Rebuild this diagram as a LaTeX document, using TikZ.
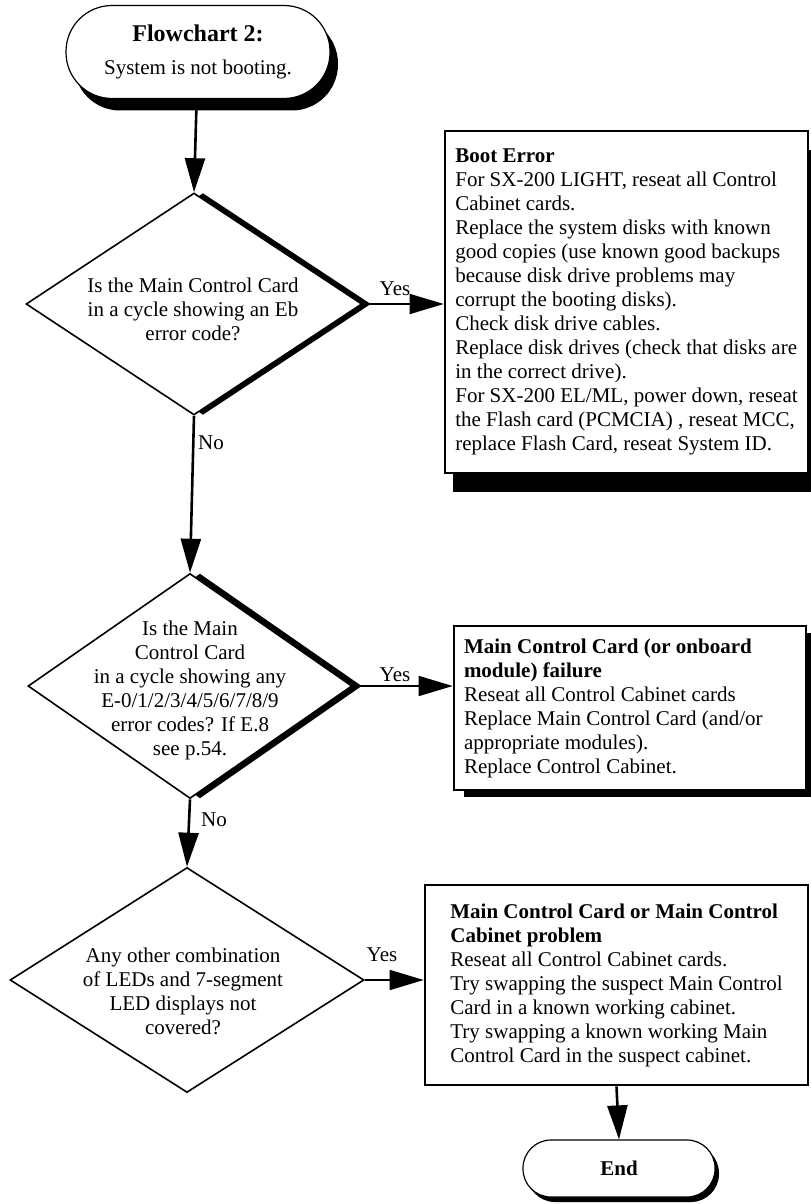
\documentclass[tikz,border=0pt]{standalone}
\usepackage{fontspec}
\setmainfont{Liberation Serif}
\usetikzlibrary{arrows.meta,shapes.geometric,shadows}

\begin{document}
\begin{tikzpicture}[x=0.5pt, y=-0.5pt, >={Triangle[length=17pt,width=10pt]},
    every node/.style={font=\fontsize{10.5}{12}\selectfont},
    term/.style={draw, line width=0.6pt, fill=white, rectangle, align=center},
    decision/.style={draw, line width=0.8pt, fill=white, diamond, inner sep=0pt},
    actbox/.style={draw, line width=1.3pt, fill=white, rectangle, align=flush left},
    flow/.style={->, line width=1.3pt},
    flowh/.style={->, line width=0.8pt}]
    \useasboundingbox (0,0) rectangle (810,1204);

    % terminals
    \node[term, rounded corners=23pt, minimum width=132pt, minimum height=46.5pt,
        drop shadow={shadow xshift=4pt, shadow yshift=-6pt, opacity=1, fill=black}]
        (start) at (198,52) {{\fontsize{12}{14}\selectfont\textbf{Flowchart 2:}}\\[4.5pt]System is not booting.};
    \node[term, rounded corners=14pt, minimum width=96pt, minimum height=28.5pt,
        drop shadow={shadow xshift=2pt, shadow yshift=-2.5pt, opacity=1, fill=black}]
        (end) at (619,1168.5) {\textbf{End}};

    % decisions
    \node[decision, minimum width=168pt, minimum height=111pt,
        drop shadow={shadow xshift=4.5pt, shadow yshift=0pt, opacity=1, fill=black}] (d1) at (194,304) {};
    \node[align=center] (d1text) at (193,309) {Is the Main Control Card\\in a cycle showing an Eb\\error code?};
    \node[decision, minimum width=162pt, minimum height=112.5pt,
        drop shadow={shadow xshift=5pt, shadow yshift=0pt, opacity=1, fill=black}] (d2) at (190,686) {};
    \node[align=center] (d2text) at (190,690) {Is the Main\\Control Card\\in a cycle showing any\\E-0/1/2/3/4/5/6/7/8/9\\error codes? If E.8\\see p.54.};
    \node[decision, minimum width=177pt, minimum height=112.5pt] (d3) at (187,980) {};
    \node[align=center] (d3text) at (183,991) {Any other combination\\of LEDs and 7-segment\\LED displays not\\covered?};

    % actions
    \node[actbox, align=left, minimum width=181.5pt, minimum height=171pt, inner xsep=4pt,
        drop shadow={shadow xshift=4pt, shadow yshift=-9.5pt, opacity=1, fill=black}] (b1) at (626.5,302)
        {\textbf{Boot Error}\\
        For SX-200 LIGHT, reseat all Control\\
        Cabinet cards.\\
        Replace the system disks with known\\
        good copies (use known good backups\\
        because disk drive problems may\\
        corrupt the booting disks).\\
        Check disk drive cables.\\
        Replace disk drives (check that disks are\\
        in the correct drive).\\
        For SX-200 EL/ML, power down, reseat\\
        the Flash card (PCMCIA) , reseat MCC,\\
        replace Flash Card, reseat System ID.};
    \node[actbox, text width=166pt, inner xsep=5pt, minimum height=82pt,
        drop shadow={shadow xshift=5pt, shadow yshift=-3.5pt, opacity=1, fill=black}] (b2) at (630,708)
        {\textbf{Main Control Card (or onboard}\\
        \textbf{module) failure}\\
        Reseat all Control Cabinet cards\\
        Replace Main Control Card (and/or\\
        appropriate modules).\\
        Replace Control Cabinet.};
    \node[actbox, align=left, minimum width=191.5pt, minimum height=100pt] (b3) at (616.5,985)
        {\textbf{Main Control Card or Main Control}\\
        \textbf{Cabinet problem}\\
        Reseat all Control Cabinet cards.\\
        Try swapping the suspect Main Control\\
        Card in a known working cabinet.\\
        Try swapping a known working Main\\
        Control Card in the suspect cabinet.};

    % connectors
    \draw[flow] (start) -- (d1.north);
    \draw[flow] (d1.south) -- (d2.north);
    \draw[flow] (d2.south) -- (d3.north);
    \draw[flowh] (d1.east) -- (d1.east -| b1.west);
    \draw[flowh] (d2.east) -- (d2.east -| b2.west);
    \draw[flowh] (d3.east) -- (d3.east -| b3.west);
    \draw[flow] (b3.south) -- (end.north);

    % branch labels
    \node (yes1) at (395,289) {Yes};
    \node (no1) at (211,443) {No};
    \node (yes2) at (395,675) {Yes};
    \node (no2) at (214,820) {No};
    \node (yes3) at (382,955) {Yes};
\end{tikzpicture}
\end{document}
